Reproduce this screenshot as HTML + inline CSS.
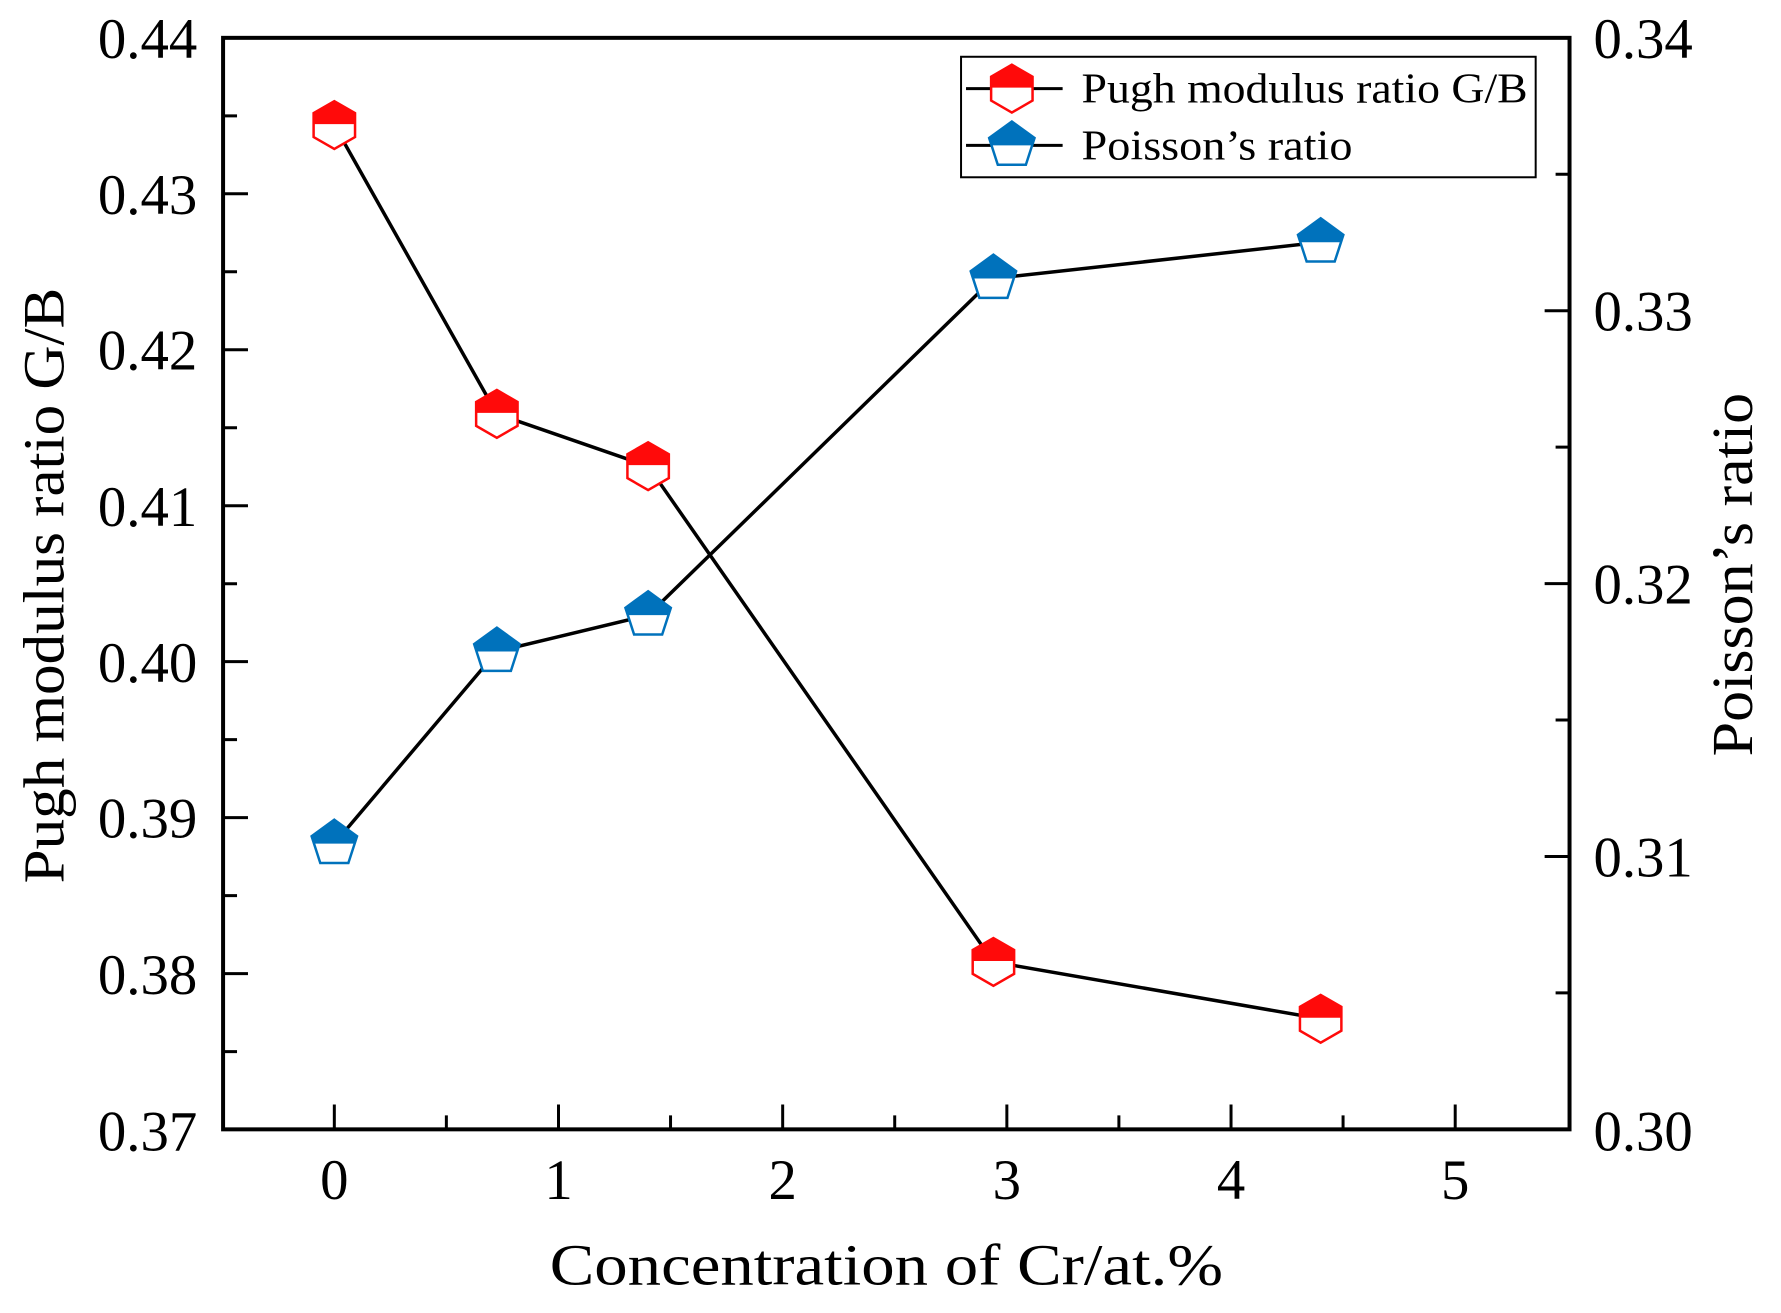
<!DOCTYPE html>
<html><head><meta charset="utf-8"><style>html,body{margin:0;padding:0;background:#fff}svg{display:block}</style></head>
<body>
<svg width="1781" height="1313" viewBox="0 0 1781 1313" xmlns="http://www.w3.org/2000/svg" font-family="'Liberation Serif', serif">
<defs>
<g id="hex"><polygon points="0,-24 20.8,-12 20.8,12 0,24 -20.8,12 -20.8,-12" fill="#fff" stroke="#ff0a0a" stroke-width="2.5"/><polygon points="0,-24 20.8,-12 20.8,-1 -20.8,-1 -20.8,-12" fill="#ff0a0a"/></g>
<g id="pent"><polygon points="0,-24 22.8,-7.4 14.1,19.4 -14.1,19.4 -22.8,-7.4" fill="#fff" stroke="#0072bc" stroke-width="2.5"/><polygon points="0,-24 22.8,-7.4 20.4,0 -20.4,0 -22.8,-7.4" fill="#0072bc"/></g>
</defs>
<rect width="1781" height="1313" fill="#fff"/>
<g transform="scale(0.9959)">
<g stroke="#000" stroke-width="3">
<path d="M224,194.6h25M224,351.2h25M224,507.8h25M224,664.4h25M224,821h25M224,977.6h25"/>
<path d="M224,116.3h14M224,272.9h14M224,429.5h14M224,586.1h14M224,742.7h14M224,899.3h14M224,1055.9h14"/>
<path d="M1576,312h-25M1576,586h-25M1576,860h-25"/>
<path d="M1576,175h-14M1576,449h-14M1576,723h-14M1576,997h-14"/>
<path d="M335.7,1134v-25M560.8,1134v-25M785.9,1134v-25M1011,1134v-25M1236.1,1134v-25M1461.2,1134v-25"/>
<path d="M448.2,1134v-14M673.3,1134v-14M898.4,1134v-14M1123.5,1134v-14M1348.6,1134v-14"/>
</g>
<rect x="224" y="38" width="1352" height="1096" fill="none" stroke="#000" stroke-width="4"/>
<polyline points="335.7,125.6 498.9,415.6 650.8,468.1 997.5,965.9 1326.1,1023" fill="none" stroke="#000" stroke-width="3.5"/>
<polyline points="335.7,847.1 498.9,654.2 650.8,617.7 997.5,279.7 1326.1,243.2" fill="none" stroke="#000" stroke-width="3.5"/>
<use href="#hex" x="335.7" y="125.6"/><use href="#hex" x="498.9" y="415.6"/><use href="#hex" x="650.8" y="468.1"/><use href="#hex" x="997.5" y="965.9"/><use href="#hex" x="1326.1" y="1023"/>
<use href="#pent" x="335.7" y="847.1"/><use href="#pent" x="498.9" y="654.2"/><use href="#pent" x="650.8" y="617.7"/><use href="#pent" x="997.5" y="279.7"/><use href="#pent" x="1326.1" y="243.2"/>
<g font-size="57" text-anchor="end">
<text x="198" y="58">0.44</text><text x="198" y="215">0.43</text><text x="198" y="371">0.42</text><text x="198" y="528">0.41</text><text x="198" y="685">0.40</text><text x="198" y="841">0.39</text><text x="198" y="998">0.38</text><text x="198" y="1155">0.37</text>
</g>
<g font-size="57" text-anchor="start">
<text x="1600" y="58">0.34</text><text x="1600" y="332">0.33</text><text x="1600" y="606">0.32</text><text x="1600" y="880">0.31</text><text x="1600" y="1155">0.30</text>
</g>
<g font-size="57" text-anchor="middle">
<text x="335.7" y="1204">0</text><text x="560.8" y="1204">1</text><text x="785.9" y="1204">2</text><text x="1011" y="1204">3</text><text x="1236.1" y="1204">4</text><text x="1461.2" y="1204">5</text>
</g>
<text x="890" y="1290" font-size="58" text-anchor="middle" textLength="676" lengthAdjust="spacingAndGlyphs">Concentration of Cr/at.%</text>
<text transform="translate(64,588) rotate(-90)" font-size="58" text-anchor="middle" textLength="598" lengthAdjust="spacingAndGlyphs">Pugh modulus ratio G/B</text>
<text transform="translate(1759,577) rotate(-90)" font-size="58" text-anchor="middle" textLength="365" lengthAdjust="spacingAndGlyphs">Poisson’s ratio</text>
<rect x="965" y="57" width="577" height="121" fill="#fff" stroke="#000" stroke-width="2"/>
<line x1="970" y1="89" x2="1067" y2="89" stroke="#000" stroke-width="3"/>
<line x1="970" y1="146" x2="1067" y2="146" stroke="#000" stroke-width="3"/>
<use href="#hex" x="1016" y="89"/><use href="#pent" x="1016" y="146"/>
<g font-size="42"><text x="1086" y="103" textLength="448" lengthAdjust="spacingAndGlyphs">Pugh modulus ratio G/B</text><text x="1086" y="160" textLength="272" lengthAdjust="spacingAndGlyphs">Poisson’s ratio</text></g>
</g>
</svg>
</body></html>
